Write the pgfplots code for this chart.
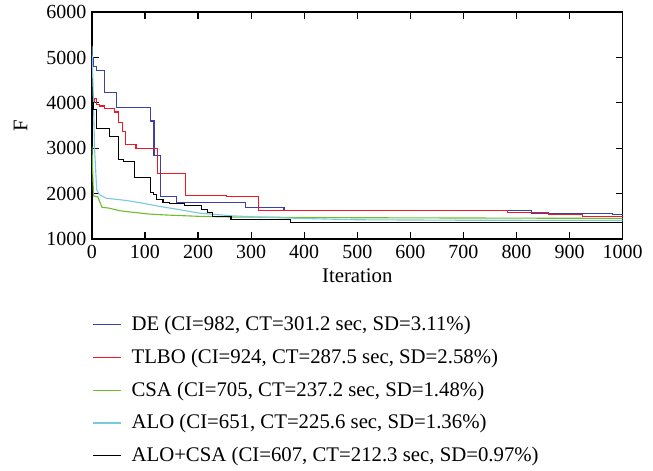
\documentclass[border=0pt]{standalone}
\usepackage{fontspec}
\setmainfont{Liberation Serif}
\usepackage{pgfplots}
\pgfplotsset{compat=1.18}
\definecolor{deblue}{RGB}{60,64,170}
\definecolor{tlred}{RGB}{240,25,35}
\definecolor{csgreen}{RGB}{110,190,50}
\definecolor{alocyan}{RGB}{125,200,225}
\begin{document}
\begin{tikzpicture}
\begin{axis}[
    scale only axis,
    width=332pt,
    height=142pt,
    xmin=0, xmax=1000,
    ymin=1000, ymax=6000,
    xtick={0,100,...,1000},
    ytick={1000,2000,...,6000},
    xlabel={Iteration},
    ylabel={F},
    ylabel style={yshift=5pt},
    axis line style={line width=0.8pt},
    tick style={line width=0.7pt, black},
    tick label style={font=\fontsize{12.5}{14}\selectfont},
    label style={font=\fontsize{13}{15}\selectfont},
    /pgf/number format/assume math mode=true,
    /pgf/number format/set thousands separator={},
    scaled ticks=false,
    legend cell align=left,
    legend style={at={(0,-0.31)}, anchor=north west, draw=none,
        font=\fontsize{13}{15}\selectfont, row sep=6pt, inner xsep=0pt},
    legend image code/.code={\draw[#1] (0.03cm,0cm) -- (0.65cm,0cm); \path (0.8cm,0cm);},
    every axis plot/.append style={line width=0.7pt},
]
\addplot[deblue, const plot] coordinates {
(0,5000) (2,4800) (8,4720) (24,4220) (46,3900) (110,3600) (117,2850)
(130,1940) (159,1810) (290,1700) (362,1630) (829,1570) (861,1560)
(981,1540) (1000,1540)
};
\addlegendentry{DE (CI=982, CT=301.2 sec, SD=3.11\%)}
\addplot[tlred, const plot] coordinates {
(0,4000) (4,4100) (8,3960) (14,3930) (24,3870) (43,3800) (50,3560)
(58,3370) (63,3080) (83,3000) (124,2440) (176,1960) (253,1930)
(314,1630) (783,1590) (861,1540) (925,1500) (1000,1500)
};
\addlegendentry{TLBO (CI=924, CT=287.5 sec, SD=2.58\%)}
\addplot[csgreen] coordinates {
(0,3040) (3,1950) (11,1930) (19,1700) (33,1680) (52,1625) (77,1590)
(109,1550) (140,1530) (203,1500) (266,1485) (500,1470) (1000,1455)
};
\addlegendentry{CSA (CI=705, CT=237.2 sec, SD=1.48\%)}
\addplot[alocyan] coordinates {
(0,5260) (3,4000) (5,3000) (7,2540) (9,2090) (14,1980) (27,1900)
(65,1850) (96,1790) (127,1720) (159,1660) (203,1570) (266,1510)
(328,1480) (391,1455) (500,1425) (700,1415) (1000,1410)
};
\addlegendentry{ALO (CI=651, CT=225.6 sec, SD=1.36\%)}
\addplot[black, const plot] coordinates {
(0,4000) (3,3850) (9,3430) (33,3260) (50,2760) (60,2710) (80,2360)
(110,2030) (116,1980) (121,1870) (134,1810) (146,1780) (175,1735)
(206,1650) (218,1590) (228,1490) (262,1430) (375,1370) (1000,1370)
};
\addlegendentry{ALO+CSA (CI=607, CT=212.3 sec, SD=0.97\%)}
\end{axis}
% white margins as in the reference
\path ([xshift=-57.5pt]current axis.south west) ([xshift=19pt]current axis.south east);
\end{tikzpicture}
\end{document}
